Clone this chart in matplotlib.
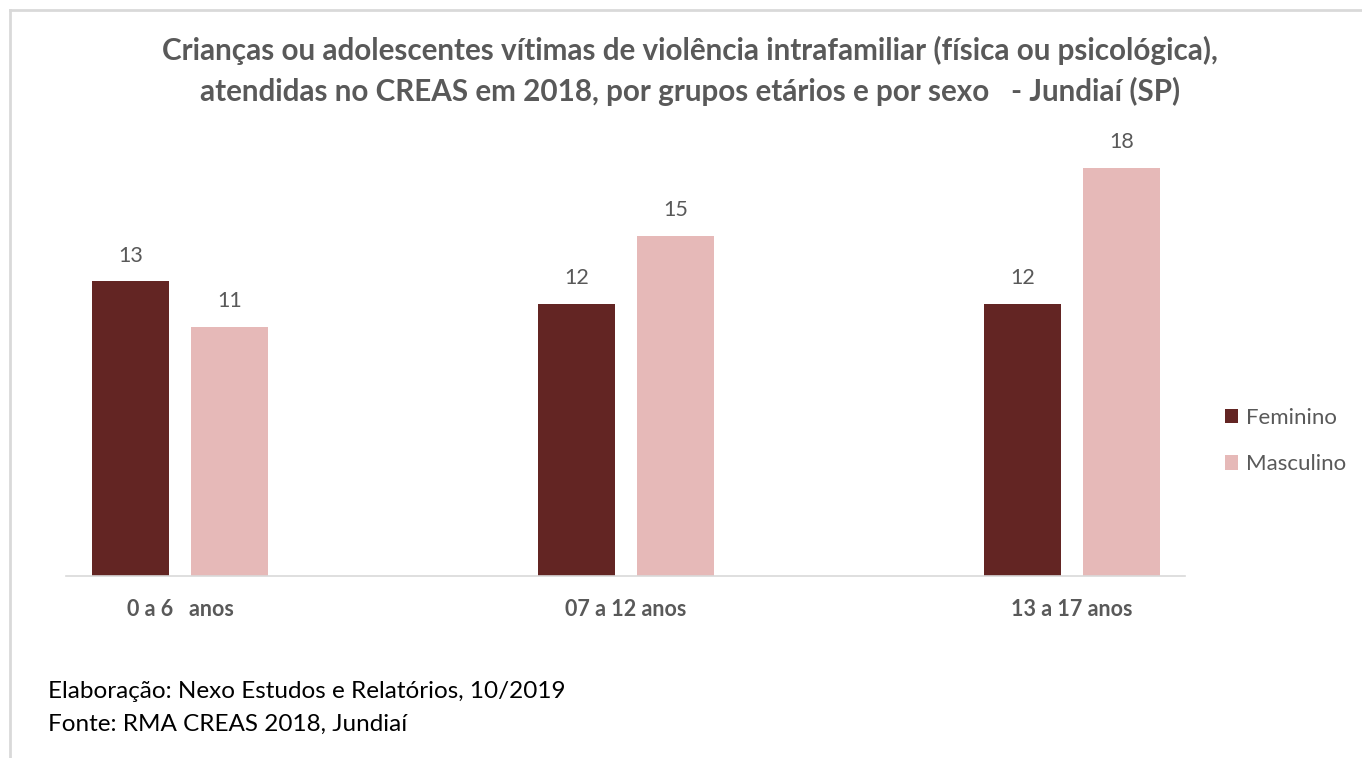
import matplotlib
matplotlib.use("Agg")
import matplotlib.pyplot as plt
import numpy as np
from matplotlib.lines import Line2D

categories = ["0 a 6   anos", "07 a 12 anos", "13 a 17 anos"]
feminino = [13, 12, 12]
masculino = [11, 15, 18]
series_names = ["Feminino", "Masculino"]
title = ("Crianças ou adolescentes vítimas de violência intrafamiliar (física ou psicológica),\n"
         "atendidas no CREAS em 2018, por grupos etários e por sexo   - Jundiaí (SP)")
footer = ["Elaboração: Nexo Estudos e Relatórios, 10/2019", "Fonte: RMA CREAS 2018, Jundiaí"]

C_FEM = "#632523"
C_MAS = "#E6B9B8"
GRAY = "#595959"
FONT = ["Lato", "DejaVu Sans"]

W, H = 1362, 758
fig = plt.figure(figsize=(W / 100, H / 100), dpi=100)
plt.rcParams['font.family'] = FONT

# axes placement in pixels
x0, x1 = 66, 1185
ybase, ytop = 576, 576 - 20 * 22.67
ax = fig.add_axes([x0 / W, 1 - ybase / H, (x1 - x0) / W, (ybase - ytop) / H])

x = np.arange(len(categories))
bw = 0.173
off = 0.111
b1 = ax.bar(x - off, feminino, bw, color=C_FEM, label=series_names[0])
b2 = ax.bar(x + off, masculino, bw, color=C_MAS, label=series_names[1])

for bars, vals in ((b1, feminino), (b2, masculino)):
    for r, v in zip(bars, vals):
        ax.annotate(str(v), (r.get_x() + r.get_width() / 2, v), xytext=(0, 18.5),
                    textcoords="offset points", ha="center", va="center",
                    fontsize=15.5, color=GRAY)

ax.set_xlim(-0.256, 2.253)
ax.set_ylim(0, 20)
for s in ["top", "right", "left"]:
    ax.spines[s].set_visible(False)
ax.spines["bottom"].set_color("#D9D9D9")
ax.spines["bottom"].set_linewidth(1.2)
ax.set_yticks([])
ax.set_xticks(x)
ax.set_xticklabels(categories, fontsize=15.5, fontweight="bold", color=GRAY)
ax.tick_params(axis="x", length=0, pad=16.5)

fig.text(690 / W, 1 - 71 / H, title, ha="center", va="center", fontsize=21.3,
         fontweight="bold", color=GRAY, linespacing=1.48)

leg = fig.legend(handles=[b1, b2], loc="center left",
                 bbox_to_anchor=(1205 / W, 1 - 441 / H), frameon=False,
                 fontsize=16, handlelength=0.6, handleheight=0.6,
                 handletextpad=0.35, labelspacing=1.2)
for t in leg.get_texts():
    t.set_color(GRAY)

fig.text(48 / W, 1 - 692 / H, footer[0], ha="left", va="center", fontsize=17.5, color="black")
fig.text(48 / W, 1 - 724 / H, footer[1], ha="left", va="center", fontsize=17.5, color="black")

# outer border (top and left)
fig.add_artist(Line2D([10 / W, 1], [1 - 10 / H, 1 - 10 / H], transform=fig.transFigure,
                      color="#D9D9D9", lw=2))
fig.add_artist(Line2D([10 / W, 10 / W], [0, 1 - 10 / H], transform=fig.transFigure,
                      color="#D9D9D9", lw=2))

fig.savefig("out.png", dpi=100, facecolor="white")
